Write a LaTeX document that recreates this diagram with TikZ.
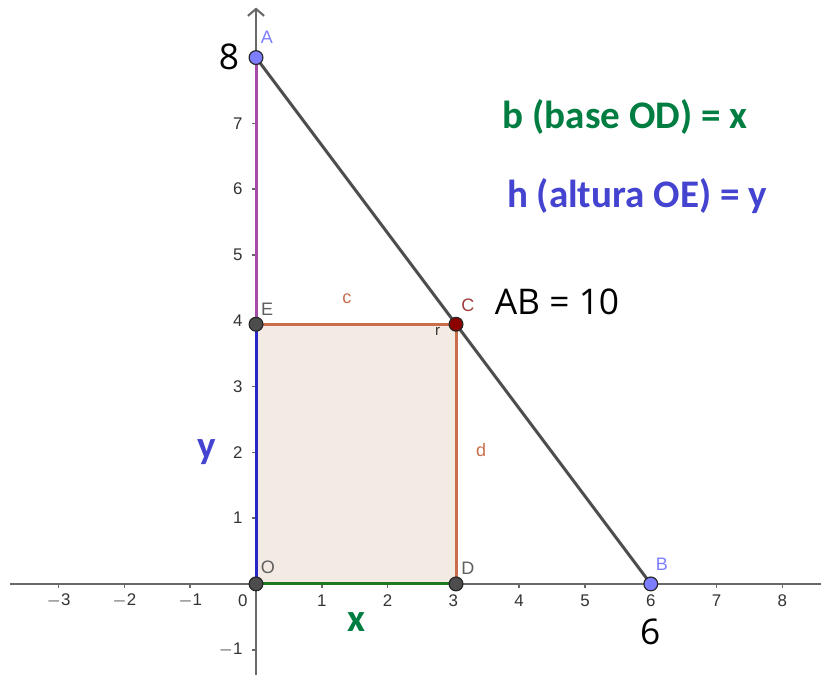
\documentclass[tikz,border=0pt]{standalone}
\usepackage{fontspec}
\setmainfont{Liberation Sans}
\newfontfamily\calib{Carlito}
\newfontfamily\segoe{Open Sans}
\usetikzlibrary{arrows.meta}
\definecolor{axisgray}{RGB}{105,105,105}
\definecolor{segdark}{RGB}{77,77,77}
\definecolor{gtext}{RGB}{0,125,65}
\definecolor{btext}{RGB}{68,68,208}
\definecolor{purpseg}{RGB}{165,75,170}
\definecolor{blueseg}{RGB}{40,40,200}
\definecolor{greenseg}{RGB}{30,120,30}
\definecolor{brownseg}{RGB}{200,110,75}
\definecolor{polyfill}{RGB}{243,234,228}
\definecolor{ptblue}{RGB}{125,125,255}
\definecolor{ptred}{RGB}{140,0,0}
\definecolor{ptgray}{RGB}{77,77,77}
\definecolor{lblgray}{RGB}{95,95,95}
\definecolor{lblred}{RGB}{160,60,60}
\begin{document}
\begin{tikzpicture}[x=1cm,y=1cm,
  axis/.style={draw=axisgray,line width=0.9pt},
  ticklbl/.style={font=\fontsize{7.3}{8}\selectfont,text=black!80,inner sep=0pt},
  ptlbl/.style={font=\fontsize{7.8}{9}\selectfont,inner sep=0pt},
  seg/.style={line width=1.3pt},
  bigtext/.style={font=\calib\bfseries\fontsize{16.9}{19}\selectfont,inner sep=0pt},
  numtext/.style={font=\segoe\fontsize{15.3}{18}\selectfont,inner sep=0pt,text=black},
  pt/.style={circle,draw=black!85,line width=0.5pt,inner sep=0pt,minimum size=0.21cm},
]
\useasboundingbox (-3.891,-1.383) rectangle (8.587,8.875);
% axes
\coordinate (xl) at (-3.74,0);
\coordinate (xr) at (8.587,0);
\coordinate (yb) at (0,-1.383);
\coordinate (yt) at (0,8.76);
\draw[axis] (xl) -- (xr);
\draw[axis,-{Straight Barb[length=3pt,width=7pt]}] (yb) -- (yt);
\foreach \i/\l in {-3/{$-$3},-2/{$-$2},-1/{$-$1},1/1,2/2,3/3,4/4,5/5,6/6,7/7,8/8}{
  \draw[axisgray,line width=0.7pt] (\i,0.02) -- (\i,-0.06);
  \node[ticklbl] at (\i,-0.25) {\l};
}
\node[ticklbl] at (-0.2,-0.25) {0};
\foreach \j/\l in {-1/{$-$1},1/1,2/2,3/3,4/4,5/5,6/6,7/7}{
  \draw[axisgray,line width=0.7pt] (0.02,\j) -- (-0.06,\j);
  \node[ticklbl,anchor=east] at (-0.2,\j) {\l};
}
% polygon
\coordinate (O) at (0,0);
\coordinate (D) at (3.04,0);
\coordinate (C) at (3.04,3.947);
\coordinate (E) at (0,3.947);
\coordinate (A) at (0,8);
\coordinate (B) at (6,0);
\fill[polyfill] (O) -- (D) -- (C) -- (E) -- cycle;
\draw[seg,greenseg] (O) -- (D);
\draw[seg,brownseg] (D) -- (C);
\draw[seg,brownseg] (C) -- (E);
\draw[seg,blueseg] (E) -- (O);
\draw[seg,purpseg] (E) -- (A);
\draw[seg,segdark] (A) -- (B);
% points
\node[pt,fill=ptgray] (pO) at (O) {};
\node[pt,fill=ptgray] (pD) at (D) {};
\node[pt,fill=ptgray] (pE) at (E) {};
\node[pt,fill=ptred] (pC) at (C) {};
\node[pt,fill=ptblue] (pA) at (A) {};
\node[pt,fill=ptblue] (pB) at (B) {};
% point labels
\node[ptlbl,text=ptblue] (lA) at (0.167,8.31) {A};
\node[ptlbl,text=ptblue] (lB) at (6.17,0.296) {B};
\node[ptlbl,text=lblred] (lC) at (3.22,4.24) {C};
\node[ptlbl,text=lblgray] (lD) at (3.22,0.245) {D};
\node[ptlbl,text=lblgray] (lE) at (0.17,4.18) {E};
\node[ptlbl,text=lblgray] (lO) at (0.18,0.26) {O};
\node[ptlbl,text=brownseg] (lc) at (1.38,4.33) {c};
\node[ptlbl,text=brownseg] (ld) at (3.42,2.04) {d};
\node[ptlbl,text=black!80,font=\fontsize{6.5}{7}\selectfont] (lr) at (2.76,3.84) {r};
% big labels
\node[numtext] (n8) at (-0.41,8.01) {8};
\node[numtext] (n6) at (5.99,-0.73) {6};
\node[numtext] (nAB) at (4.575,4.29) {AB = 10};
\node[bigtext,text=gtext] (tb) at (5.61,7.10) {b (base OD) = x};
\node[bigtext,text=btext] (th) at (5.79,5.90) {h (altura OE) = y};
\node[bigtext,text=btext] (ty) at (-0.745,2.0) {y};
\node[bigtext,text=gtext] (tx) at (1.52,-0.58) {x};
\end{tikzpicture}
\end{document}
